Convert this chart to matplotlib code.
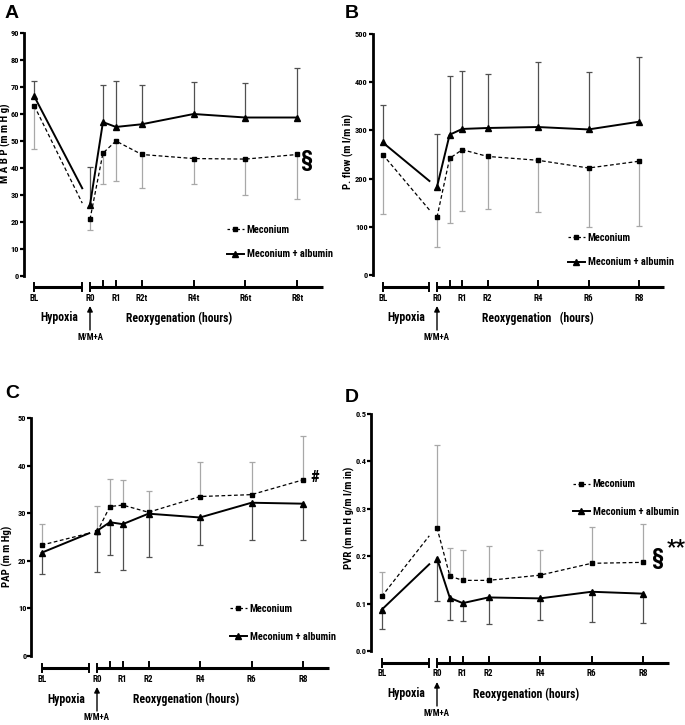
import matplotlib
matplotlib.use("Agg")
import matplotlib.pyplot as plt
import matplotlib.transforms as mtrans
from matplotlib.lines import Line2D

plt.rcParams["font.family"] = ["Roboto Condensed", "DejaVu Sans"]
plt.rcParams["font.weight"] = "bold"

W, H = 685, 725

# time axis in hours from R0; BL and end of hypoxia sit left of the break
reox_hours = [0, 0.5, 1, 2, 4, 6, 8]
bl_x, hyp_end_x = -2.15, -0.3
tick_pos = [-2.15, 0, 1, 2, 4, 6, 8]
ticks_std = ["BL", "R0", "R1", "R2", "R4", "R6", "R8"]
ticks_a = ["BL", "R0", "R1", "R2t", "R4t", "R6t", "R8t"]

# A: MABP (mmHg) -- meconium bars go down, albumin bars go up
mabp_mec_bl, mabp_mec_hyp = 63, 27
mabp_mec = [21, 45.5, 50, 45, 43.5, 43.3, 45]
mabp_mec_bar = [47, 17, 34, 35, 32.5, 34, 30, 28.5]
mabp_alb_bl, mabp_alb_hyp = 66.5, 32.5
mabp_alb = [26.3, 57, 55.2, 56.2, 60, 58.7, 58.7]
mabp_alb_bar = [72.2, 40.5, 70.6, 72.2, 70.6, 71.8, 71.4, 77]

# B: pulmonary flow (ml/min)
flow_mec_bl, flow_mec_hyp = 250, 135
flow_mec = [120, 242, 260, 246, 238, 222, 236]
flow_mec_bar = [126, 58, 107, 132, 137, 130, 100, 102]
flow_alb_bl, flow_alb_hyp = 275, 195
flow_alb = [183, 291, 303, 305, 307, 302, 318]
flow_alb_bar = [352, 293, 412, 423, 417, 441, 421, 453]

# C: PAP (mmHg) -- meconium bars go up, albumin bars go down
pap_mec_bl, pap_mec_hyp = 23.3, 25.8
pap_mec = [26, 31.4, 31.7, 30.2, 33.5, 33.9, 37]
pap_mec_bar = [27.8, 31.5, 37.2, 36.9, 34.6, 40.7, 40.8, 46.2]
pap_alb_bl, pap_alb_hyp = 21.7, 25.8
pap_alb = [26.3, 28.1, 27.7, 29.9, 29.1, 32.2, 32]
pap_alb_bar = [17.2, 17.7, 21.2, 18.1, 20.9, 23.4, 24.4, 24.3]

# D: PVR (mmHg/ml/min)
pvr_mec_bl, pvr_mec_hyp = 0.115, 0.243
pvr_mec = [0.26, 0.158, 0.149, 0.149, 0.16, 0.185, 0.187]
pvr_mec_bar = [0.166, 0.434, 0.218, 0.213, 0.222, 0.213, 0.262, 0.267]
pvr_alb_bl, pvr_alb_hyp = 0.087, 0.183
pvr_alb = [0.195, 0.112, 0.101, 0.113, 0.111, 0.125, 0.121]
pvr_alb_bar = [0.046, 0.106, 0.066, 0.063, 0.056, 0.066, 0.061, 0.06]

XLIM = (-2.55, 9.0)


def fy(px):
    return 1 - px / H


def panel(fig, geo, mec, alb, ylim, yticks, yfmt, ylabel, ticklabels, legend_xy, legend_gap,
          reox=("Reoxygenation (hours)", 3.45)):
    r0, scale, ytop, ybot, bar_y, lab_xy, letter, letter_xy = geo
    left = r0 + XLIM[0] * scale
    width = (XLIM[1] - XLIM[0]) * scale
    ax = fig.add_axes([left / W, fy(ybot), width / W, (ybot - ytop) / H])
    ax.set_xlim(*XLIM)
    ax.set_ylim(*ylim)
    for s in ("top", "right", "bottom"):
        ax.spines[s].set_visible(False)
    ax.spines["left"].set_linewidth(2)
    ax.set_xticks([])
    ax.set_yticks(yticks)
    ax.set_yticklabels([yfmt.format(v) for v in yticks], fontsize=6, fontweight="bold")
    ax.tick_params(axis="y", length=3, width=1.6, pad=0.5)
    ax.patch.set_alpha(0)

    for (bl, hyp, vals, bar), style in zip((mec, alb), ("mec", "alb")):
        if style == "mec":
            kw = dict(color="k", lw=0.9, ls=(0, (3, 2)), marker="s", ms=3)
            ecol = "#a8a8a8"
        else:
            kw = dict(color="k", lw=1.4, ls="-", marker="^", ms=4)
            ecol = "#505050"
        xs = [bl_x] + reox_hours
        ys = [bl] + vals
        ax.vlines(xs, ys, bar, color=ecol, lw=0.9, zorder=1)
        ax.plot(xs, bar, ls="none", marker="_", ms=5, mew=0.9, color=ecol, zorder=1)
        ax.plot([bl_x, hyp_end_x], [bl, hyp], color="k", lw=kw["lw"], ls=kw["ls"], zorder=2)
        ax.plot([bl_x], [bl], ls="none", marker=kw["marker"], ms=kw["ms"], color="k", zorder=3)
        ax.plot(reox_hours, vals, zorder=3, **kw)

    # broken time bar under the plot
    tr = mtrans.blended_transform_factory(ax.transData, fig.transFigure)
    yb = fy(bar_y)
    d = 4 / H
    bk = dict(color="k", lw=2.2, transform=tr, clip_on=False, solid_capstyle="butt")
    ax.plot([bl_x, hyp_end_x - 0.02], [yb, yb], **bk)
    ax.plot([0, XLIM[1]], [yb, yb], **bk)
    for x in (bl_x, hyp_end_x - 0.02, 0):
        ax.plot([x, x], [yb - d, yb + d], color="k", lw=1.4, transform=tr, clip_on=False)
    for x in reox_hours[1:]:
        ax.plot([x, x], [yb, yb + 1.4 * d], color="k", lw=1.4, transform=tr, clip_on=False)
    for x, t in zip(tick_pos, ticklabels):
        ax.text(x, fy(bar_y + 11), t, transform=tr, ha="center", va="center", fontsize=6.5)
    ax.text(-1.2, fy(bar_y + 31), "Hypoxia", transform=tr, ha="center", va="center", fontsize=8.5)
    ax.text(reox[1], fy(bar_y + 31), reox[0], transform=tr, ha="center", va="center", fontsize=8.5)
    ax.annotate("", xy=(0, fy(bar_y + 19)), xytext=(0, fy(bar_y + 43)), xycoords=tr, textcoords=tr,
                arrowprops=dict(arrowstyle="-|>", lw=1.0, color="k", mutation_scale=8,
                                shrinkA=0, shrinkB=0))
    ax.text(0, fy(bar_y + 50), "M/M+A", transform=tr, ha="center", va="center", fontsize=6.5)

    fig.text(lab_xy[0] / W, fy(lab_xy[1]), ylabel, rotation=90, ha="center", va="center",
             fontsize=7.8)
    fig.text(letter_xy[0] / W, fy(letter_xy[1]), letter, ha="center", va="center", fontsize=14,
             family=["Liberation Sans", "DejaVu Sans"])

    handles = [Line2D([], [], color="k", lw=0.9, ls=(0, (2, 2)), marker="s", ms=3),
               Line2D([], [], color="k", lw=1.4, marker="^", ms=4)]
    ax.legend(handles, ["Meconium", "Meconium + albumin"], loc="center left",
              bbox_to_anchor=(legend_xy[0] / W, fy(legend_xy[1])), bbox_transform=fig.transFigure,
              frameon=False, fontsize=7.5, handlelength=1.6, handletextpad=0.3,
              labelspacing=legend_gap, borderpad=0, borderaxespad=0)
    return ax


fig = plt.figure(figsize=(W / 100, H / 100), dpi=100)

panel(fig, (90, 25.9, 33, 276, 287, (5, 143), "A", (12, 13)),
      (mabp_mec_bl, mabp_mec_hyp, mabp_mec, mabp_mec_bar),
      (mabp_alb_bl, mabp_alb_hyp, mabp_alb, mabp_alb_bar),
      (0, 90), list(range(0, 91, 10)), "{:d}", "M A B P (m m H g)", ticks_a, (227, 242), 1.4)

panel(fig, (437, 25.25, 34, 275, 287, (348, 151), "B", (352, 13)),
      (flow_mec_bl, flow_mec_hyp, flow_mec, flow_mec_bar),
      (flow_alb_bl, flow_alb_hyp, flow_alb, flow_alb_bar),
      (0, 500), list(range(0, 501, 100)), "{:d}", "P. flow (m l/m in)", ticks_std, (568, 250), 1.4,
      reox=("Reoxygenation   (hours)", 4.0))

panel(fig, (97, 25.75, 418, 656, 668, (7, 556), "C", (12, 393)),
      (pap_mec_bl, pap_mec_hyp, pap_mec, pap_mec_bar),
      (pap_alb_bl, pap_alb_hyp, pap_alb, pap_alb_bar),
      (0, 50), list(range(0, 51, 10)), "{:d}", "PAP (m m Hg)", ticks_std, (230, 623), 1.7)

panel(fig, (437, 25.75, 414, 651, 663, (349, 518), "D", (352, 397)),
      (pvr_mec_bl, pvr_mec_hyp, pvr_mec, pvr_mec_bar),
      (pvr_alb_bl, pvr_alb_hyp, pvr_alb, pvr_alb_bar),
      (0, 0.5), [0.0, 0.1, 0.2, 0.3, 0.4, 0.5], "{:.1f}", "PVR (m m H g/m l/m in)", ticks_std,
      (573, 498), 1.7)

fig.text(307 / W, fy(160), "§", ha="center", va="center", fontsize=16)
fig.text(315 / W, fy(478), "#", ha="center", va="center", fontsize=12)
fig.text(658 / W, fy(558), "§", ha="center", va="center", fontsize=16)
fig.text(676 / W, fy(548), "**", ha="center", va="center", fontsize=15)

fig.savefig("out.png", dpi=100)
